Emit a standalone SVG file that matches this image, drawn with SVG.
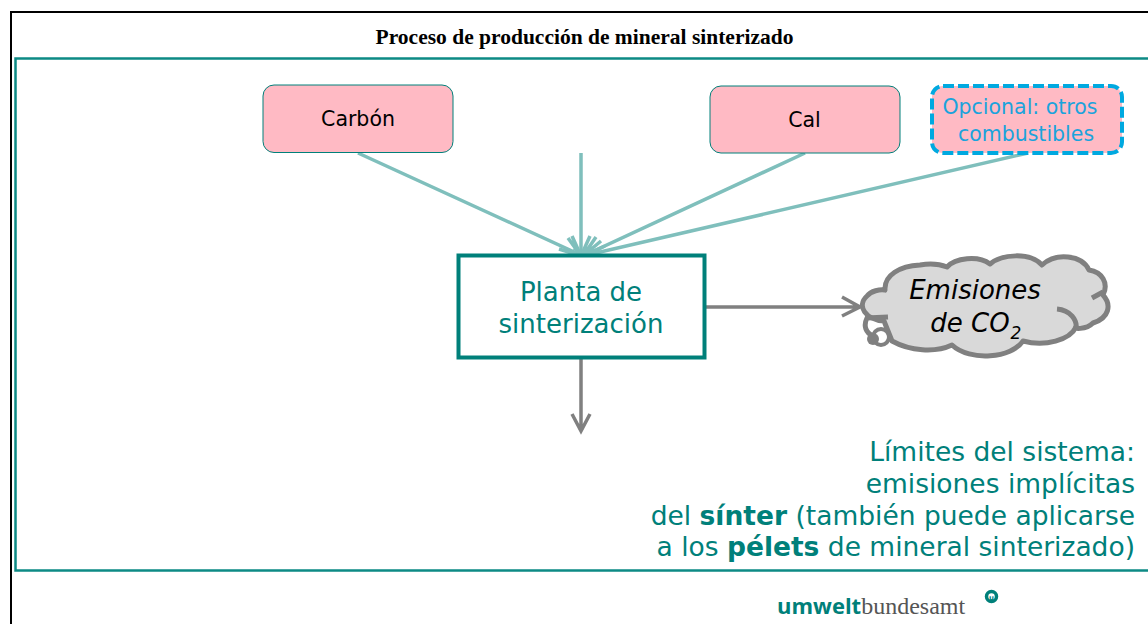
<svg xmlns="http://www.w3.org/2000/svg" width="1148" height="624" viewBox="0 0 1148 624">
<style>
text{font-family:"DejaVu Sans",Verdana,sans-serif}
.box{fill:#ffbac4;stroke:#00807a;stroke-width:1}
.in{fill:none;stroke:#7fbfbc;stroke-width:3.5}
.out{fill:none;stroke:#808080;stroke-width:3.5}
.teal{fill:#00807a}
</style>
<rect width="1148" height="624" fill="#fff"/>
<path d="M1148 12H11V624" fill="none" stroke="#000" stroke-width="2"/>
<path d="M1148 58.500H15.500V570.500H1148" fill="none" stroke="#0d8a85" stroke-width="2.500"/>
<text id="title" x="584.500" y="44" text-anchor="middle" style="font-family:'Liberation Serif','Times New Roman',serif;font-weight:bold;font-size:21.500px">Proceso de producción de mineral sinterizado</text>
<g id="connectors">
<path class="in" d="M358 153L583 256M581 153V256M805 153L583 256M1028 153L583 256"/>
<path class="in" d="M568 238L581 256L559 249M572 236L581 256L590 236M574 248L583 256L596 237M583 256L601 241M583 256L605 246M583 256L602 259"/>
<path class="out" d="M706 307H860M842 297L860 307L842 316"/>
<path class="out" d="M581 358V431M572 414L581 431L590 414"/>
</g>
<g id="carbon"><rect class="box" x="263" y="85" width="190" height="67.500" rx="11"/><text x="358" y="126" text-anchor="middle" font-size="20.500">Carbón</text></g>
<g id="cal"><rect class="box" x="710" y="86" width="190" height="67" rx="11"/><text x="804.500" y="127" text-anchor="middle" font-size="20.500">Cal</text></g>
<g id="opcional"><rect x="932" y="86" width="190" height="67" rx="11" fill="#ffbac4" stroke="#00a9e0" stroke-width="4" stroke-dasharray="11 4"/><text text-anchor="middle" font-size="20.500" fill="#1ba3dc"><tspan x="1020" y="114">Opcional: otros</tspan><tspan x="1026" y="141">combustibles</tspan></text></g>
<g id="planta"><rect x="458.500" y="255.500" width="246" height="102" fill="#fff" stroke="#00807a" stroke-width="4"/><text text-anchor="middle" font-size="26" class="teal"><tspan x="581" y="301">Planta de</tspan><tspan x="581" y="333">sinterización</tspan></text></g>
<g id="emisiones">
<path d="M884 321C866 320 856 306 867 296C871 291 880 289 885 290C884 275 900 266 920 265C932 263 942 265 947 267C955 258 978 255 990 264C1002 254 1030 252 1042 265C1056 252 1082 255 1089 270C1102 272 1109 283 1103 295C1112 305 1109 318 1093 323C1086 330 1072 329 1076 327C1070 340 1045 347 1023 341C1012 358 970 362 952 345C935 353 910 351 892 341Z" fill="#d9d9d9" stroke="#808080" stroke-width="5" stroke-linejoin="round"/>
<path d="M1057 309C1070 310 1078 320 1076 330M1092 298L1103 292M888 317L867 318C863 326 866 333 873 336M885 290L884 291" fill="none" stroke="#808080" stroke-width="5"/>
<circle cx="881" cy="337" r="8" fill="none" stroke="#808080" stroke-width="4"/><circle cx="873" cy="339" r="6" fill="#808080"/>
<text text-anchor="middle" font-size="26" font-style="italic"><tspan x="975" y="299">Emisiones</tspan><tspan x="970" y="332">de CO</tspan><tspan x="1016" y="339" font-size="17">2</tspan></text>
</g>
<g id="limites"><text text-anchor="end" font-size="26.500" class="teal"><tspan x="1135" y="461">Límites del sistema:</tspan><tspan x="1135" y="493">emisiones implícitas</tspan><tspan x="1135" y="525">del <tspan font-weight="bold">sínter</tspan> (también puede aplicarse</tspan><tspan x="1135" y="556">a los <tspan font-weight="bold">pélets</tspan> de mineral sinterizado)</tspan></text></g>
<g id="logo">
<text x="777" y="614" font-size="22" style="font-family:'Open Sans',sans-serif"><tspan font-weight="bold" fill="#00807a">umwelt</tspan><tspan fill="#555" style="font-family:'Liberation Serif',serif" font-size="24">bundesamt</tspan></text>
<circle cx="991.500" cy="596.500" r="5" fill="none" stroke="#00807a" stroke-width="3.500"/>
<text x="991.500" y="599.500" font-size="7" font-weight="bold" text-anchor="middle" fill="#00807a">u</text>
</g>
</svg>
